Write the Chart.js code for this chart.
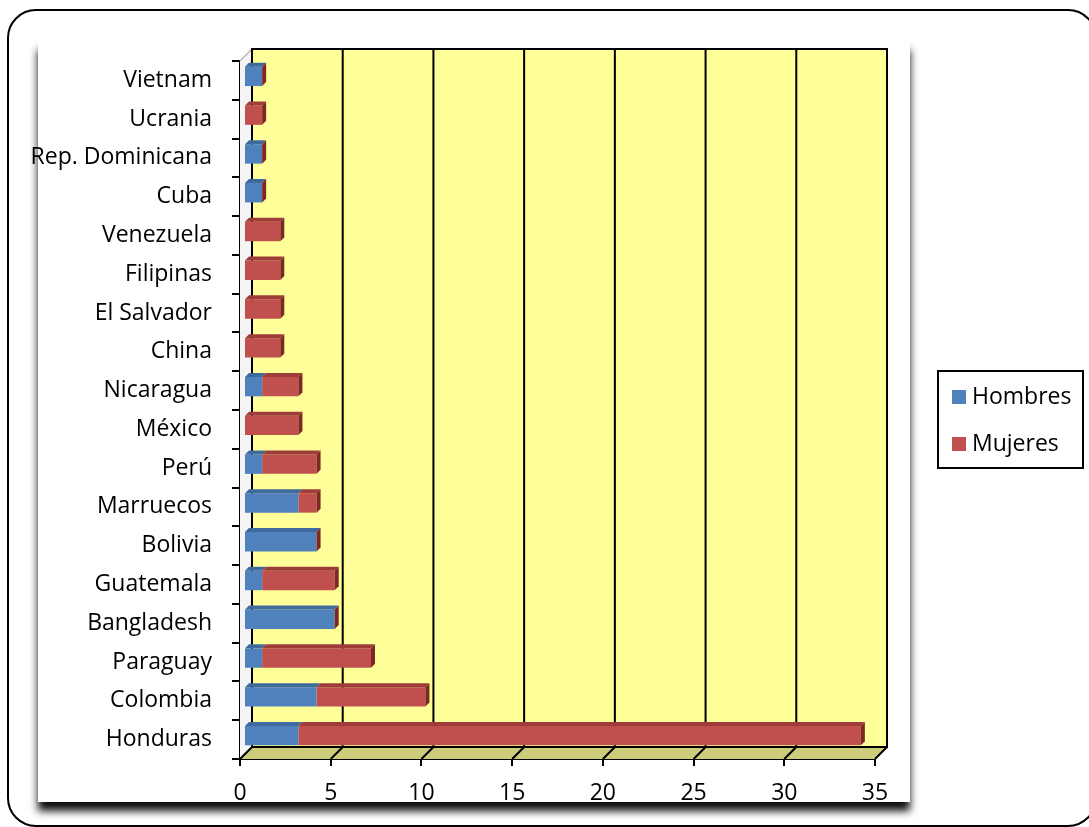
<!DOCTYPE html>
<html>
<head>
<meta charset="utf-8">
<script src="https://cdn.jsdelivr.net/npm/chart.js@4/dist/chart.umd.min.js"></script>
<style>
  html, body { margin: 0; padding: 0; background: #ffffff; }
  #wrap { width: 1089px; height: 827px; position: relative; }
</style>
</head>
<body>
<div id="wrap"><canvas id="c"></canvas></div>
<script>
// Countries, listed from the bottom row upwards
const paises = ['Honduras', 'Colombia', 'Paraguay', 'Bangladesh', 'Guatemala', 'Bolivia',
  'Marruecos', 'Perú', 'México', 'Nicaragua', 'China', 'El Salvador', 'Filipinas',
  'Venezuela', 'Cuba', 'Rep. Dominicana', 'Ucrania', 'Vietnam'];
const hombres = [3, 4, 1, 5, 1, 4, 3, 1, 0, 1, 0, 0, 0, 0, 1, 1, 0, 1];
const mujeres = [31, 6, 6, 0, 4, 0, 1, 3, 3, 2, 2, 2, 2, 2, 0, 0, 1, 0];
const ejeX = [0, 5, 10, 15, 20, 25, 30, 35];

const FONT = '"Open Sans", "DejaVu Sans", sans-serif';
const DEPTH = 12;      // depth of the plot box
const BAR_DEPTH = 4;   // depth of each bar

// Card background with its drop shadow and the outer rounded frame
const fondo = {
  id: 'fondo',
  beforeDraw(chart) {
    const ctx = chart.ctx;
    ctx.save();
    ctx.fillStyle = '#ffffff';
    ctx.fillRect(0, 0, chart.width, chart.height);
    // outer rounded frame
    ctx.beginPath();
    ctx.roundRect(8, 10, 1088, 816, 28);
    ctx.lineWidth = 2;
    ctx.strokeStyle = '#000000';
    ctx.stroke();
    // inner panel with shadow
    ctx.shadowColor = 'rgba(0,0,0,0.95)';
    ctx.shadowBlur = 8;
    ctx.shadowOffsetX = 0;
    ctx.shadowOffsetY = 9;
    ctx.fillStyle = '#ffffff';
    ctx.fillRect(38, 41, 872, 761);
    ctx.restore();
  }
};

// Back wall, side wall and floor of the 3D plot box, with gridlines
const caja = {
  id: 'caja',
  beforeDatasetsDraw(chart) {
    const ctx = chart.ctx;
    const a = chart.chartArea;
    const x = chart.scales.x;
    const d = DEPTH;
    ctx.save();
    // left wall
    ctx.beginPath();
    ctx.moveTo(a.left, a.top);
    ctx.lineTo(a.left + d, a.top - d);
    ctx.lineTo(a.left + d, a.bottom - d);
    ctx.lineTo(a.left, a.bottom);
    ctx.closePath();
    ctx.fillStyle = '#f4f4f4';
    ctx.fill();
    ctx.strokeStyle = '#b8b8b8';
    ctx.lineWidth = 1.5;
    ctx.beginPath();
    ctx.moveTo(a.left, a.top);
    ctx.lineTo(a.left + d, a.top - d);
    ctx.stroke();
    // back wall
    ctx.fillStyle = '#ffff99';
    ctx.fillRect(a.left + d, a.top - d, a.right - a.left, a.bottom - a.top);
    // floor
    ctx.beginPath();
    ctx.moveTo(a.left, a.bottom);
    ctx.lineTo(a.right, a.bottom);
    ctx.lineTo(a.right + d, a.bottom - d);
    ctx.lineTo(a.left + d, a.bottom - d);
    ctx.closePath();
    ctx.fillStyle = '#cccc7a';
    ctx.fill();
    // gridlines on the wall and on the floor
    ctx.strokeStyle = '#000000';
    ctx.lineWidth = 2;
    ejeX.forEach(v => {
      const px = x.getPixelForValue(v);
      ctx.beginPath();
      ctx.moveTo(px + d, a.top - d);
      ctx.lineTo(px + d, a.bottom - d);
      ctx.lineTo(px, a.bottom);
      ctx.stroke();
    });
    // outline of the wall and the floor
    ctx.beginPath();
    ctx.moveTo(a.left + d, a.bottom - d);
    ctx.lineTo(a.left + d, a.top - d);
    ctx.lineTo(a.right + d, a.top - d);
    ctx.lineTo(a.right + d, a.bottom - d);
    ctx.lineTo(a.left + d, a.bottom - d);
    ctx.stroke();
    ctx.restore();
    // bars sit slightly inside the box
    ctx.save();
    ctx.translate(BAR_DEPTH, -BAR_DEPTH);
  },
  afterDatasetsDraw(chart) {
    const ctx = chart.ctx;
    const b = BAR_DEPTH;
    const tops = ['#3f6a9e', '#9e3c3a'];
    const n = chart.data.labels.length;
    for (let i = 0; i < n; i++) {
      let lastEl = null;
      chart.data.datasets.forEach((ds, di) => {
        const el = chart.getDatasetMeta(di).data[i];
        if (!el) return;
        const top = el.y - el.height / 2;
        const x0 = Math.min(el.base, el.x), x1 = Math.max(el.base, el.x);
        if (x1 - x0 > 0.5) {
          ctx.beginPath();
          ctx.moveTo(x0, top);
          ctx.lineTo(x1, top);
          ctx.lineTo(x1 + b, top - b);
          ctx.lineTo(x0 + b, top - b);
          ctx.closePath();
          ctx.fillStyle = tops[di];
          ctx.fill();
        }
        lastEl = el;
      });
      if (lastEl) {
        const top = lastEl.y - lastEl.height / 2;
        const bot = lastEl.y + lastEl.height / 2;
        const xe = lastEl.x;
        ctx.beginPath();
        ctx.moveTo(xe, top);
        ctx.lineTo(xe + b, top - b);
        ctx.lineTo(xe + b, bot - b);
        ctx.lineTo(xe, bot);
        ctx.closePath();
        ctx.fillStyle = '#7e2826';
        ctx.fill();
      }
    }
    ctx.restore();
  }
};

// Boxed legend at the right
const leyenda = {
  id: 'leyenda',
  afterDraw(chart) {
    const ctx = chart.ctx;
    ctx.save();
    ctx.lineWidth = 2;
    ctx.strokeStyle = '#000000';
    ctx.strokeRect(938, 371, 145, 97);
    ctx.font = '23px ' + FONT;
    ctx.textBaseline = 'middle';
    ctx.fillStyle = '#000000';
    chart.data.datasets.forEach((ds, i) => {
      const y = 397 + i * 47;
      ctx.fillStyle = ds.backgroundColor;
      ctx.fillRect(952, y - 7, 14, 14);
      ctx.fillStyle = '#000000';
      ctx.fillText(ds.label, 972, y);
    });
    ctx.restore();
  }
};

new Chart(document.getElementById('c'), {
  type: 'bar',
  data: {
    labels: paises,
    datasets: [
      { label: 'Hombres', data: hombres, backgroundColor: '#4f81bd' },
      { label: 'Mujeres', data: mujeres, backgroundColor: '#c0504d' }
    ]
  },
  options: {
    indexAxis: 'y',
    responsive: true,
    maintainAspectRatio: false,
    animation: false,
    layout: { padding: { top: 61, right: 214, left: 0, bottom: 0 } },
    datasets: { bar: { categoryPercentage: 1, barPercentage: 0.5 } },
    plugins: { legend: { display: false }, tooltip: { enabled: false } },
    scales: {
      x: {
        stacked: true,
        min: 0, max: 35,
        afterBuildTicks(s) { s.ticks = ejeX.map(v => ({ value: v })); },
        grid: { drawOnChartArea: false, color: '#000000', lineWidth: 2, tickLength: 7 },
        border: { color: '#000000', width: 2 },
        ticks: { color: '#000000', font: { family: FONT, size: 23 }, padding: 14, maxRotation: 0 },
        afterFit(s) { s.height = 68; }
      },
      y: {
        stacked: true,
        reverse: true,
        grid: { drawOnChartArea: false, color: '#000000', lineWidth: 2, tickLength: 8, offset: true },
        border: { color: '#000000', width: 2 },
        ticks: { color: '#000000', font: { family: FONT, size: 23 }, padding: 20, autoSkip: false },
        afterFit(s) { s.width = 240; }
      }
    }
  },
  plugins: [fondo, caja, leyenda]
});
</script>
</body>
</html>
